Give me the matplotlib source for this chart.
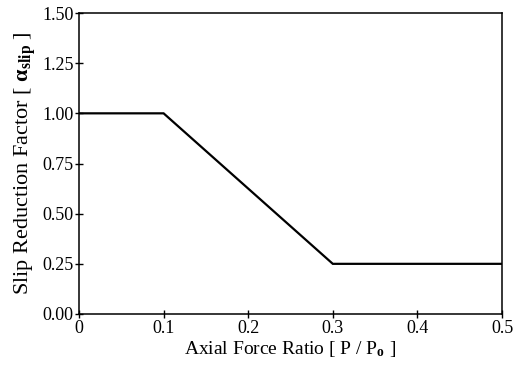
import matplotlib
matplotlib.use("Agg")
import matplotlib.pyplot as plt

x_vals = [0.0, 0.1, 0.3, 0.5]
y_vals = [1.0, 1.0, 0.25, 0.25]
x_ticks = [0, 0.1, 0.2, 0.3, 0.4, 0.5]
x_tick_labels = ["0", "0.1", "0.2", "0.3", "0.4", "0.5"]
y_ticks = [0.0, 0.25, 0.5, 0.75, 1.0, 1.25, 1.5]
y_tick_labels = ["0.00", "0.25", "0.50", "0.75", "1.00", "1.25", "1.50"]

plt.rcParams['font.family'] = ['Liberation Serif', 'DejaVu Serif']
plt.rcParams['mathtext.fontset'] = 'custom'
plt.rcParams['mathtext.rm'] = 'Liberation Serif'
plt.rcParams['mathtext.it'] = 'Liberation Serif:italic'
plt.rcParams['mathtext.bf'] = 'Liberation Serif:bold'

fig = plt.figure(figsize=(5.2, 3.69), dpi=100)
ax = fig.add_axes([79/520, 1-314/369, (502-79)/520, (314-13)/369])
ax.plot(x_vals, y_vals, color='black', lw=1.6, solid_joinstyle='miter')
ax.set_xlim(0, 0.5)
ax.set_ylim(0, 1.5)
ax.set_xticks(x_ticks)
ax.set_xticklabels(x_tick_labels)
ax.set_yticks(y_ticks)
ax.set_yticklabels(y_tick_labels)
ax.tick_params(direction='inout', length=6, width=1, labelsize=13, pad=1, colors='black')
for s in ax.spines.values():
    s.set_linewidth(1.1)
ax.set_xlabel(r"Axial Force Ratio [ P / P$_{\mathbf{o}}$ ]", fontsize=14, labelpad=2)
ax.set_ylabel(r"Slip Reduction Factor [ $\mathbf{\alpha}_{\mathbf{slip}}$ ]", fontsize=16, labelpad=3)
fig.savefig("out.png", dpi=100)
